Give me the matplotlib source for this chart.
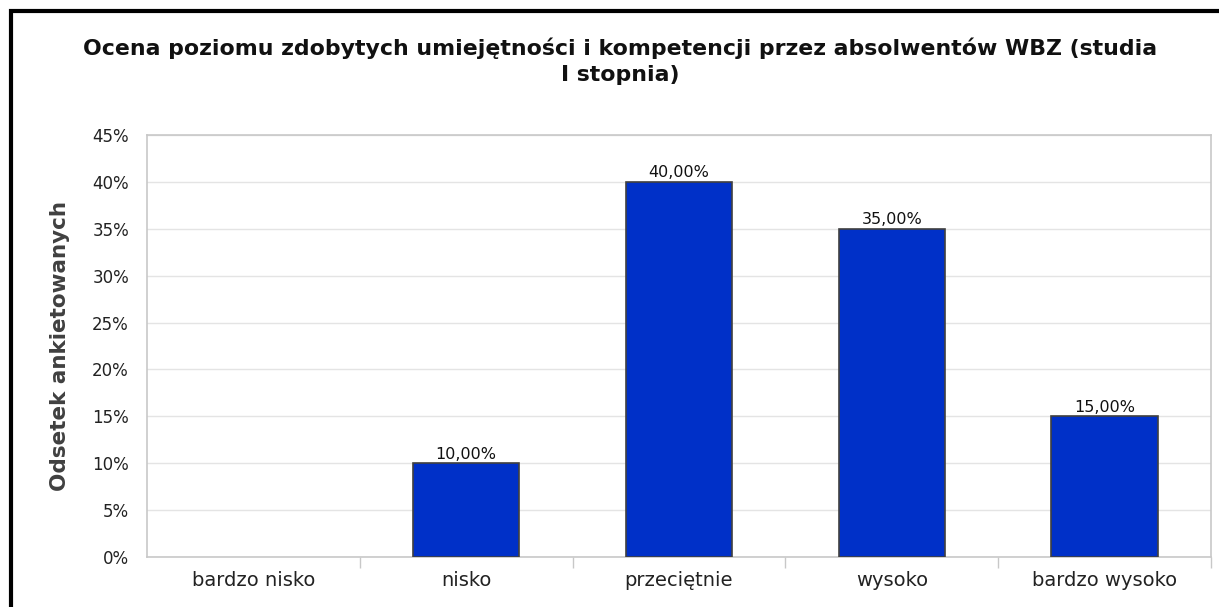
import matplotlib
matplotlib.use("Agg")
import matplotlib.pyplot as plt
from matplotlib.patches import Rectangle
from matplotlib.ticker import FixedLocator, NullFormatter

categories = ["bardzo nisko", "nisko", "przeciętnie", "wysoko", "bardzo wysoko"]
values = [0.0, 10.0, 40.0, 35.0, 15.0]
labels = ["", "10,00%", "40,00%", "35,00%", "15,00%"]
yticks = [0, 5, 10, 15, 20, 25, 30, 35, 40, 45]
ytick_labels = ["0%", "5%", "10%", "15%", "20%", "25%", "30%", "35%", "40%", "45%"]
title = "Ocena poziomu zdobytych umiejętności i kompetencji przez absolwentów WBZ (studia\nI stopnia)"
ylabel = "Odsetek ankietowanych"

plt.rcParams['font.family'] = ['DejaVu Sans']

W, H = 1219, 607
fig = plt.figure(figsize=(W / 100, H / 100), dpi=100)
ax = fig.add_axes([147 / W, (H - 557) / H, (1211 - 147) / W, (557 - 135) / H])

x = list(range(len(categories)))
edges = ["#404040" if v > 0 else "none" for v in values]
ax.bar(x, values, width=0.5, color="#0030C8", edgecolor=edges, linewidth=1.2, zorder=3)
for xi, v, lab in zip(x, values, labels):
    if lab:
        ax.text(xi, v + 0.15, lab, ha="center", va="bottom", fontsize=11.5, color="#111111", zorder=4)

ax.set_xlim(-0.5, len(categories) - 0.5)
ax.set_ylim(0, 45)
ax.set_yticks(yticks)
ax.set_yticklabels(ytick_labels, fontsize=12, color="#222222")
ax.yaxis.grid(True, color="#E4E4E4", linewidth=1, zorder=0)
ax.tick_params(axis="y", length=0, pad=13)

ax.set_xticks(x)
ax.set_xticklabels(categories, fontsize=14, color="#222222")
ax.tick_params(axis="x", which="major", length=0, pad=10)
ax.xaxis.set_minor_locator(FixedLocator([i + 0.5 for i in range(len(categories))]))
ax.xaxis.set_minor_formatter(NullFormatter())
ax.tick_params(axis="x", which="minor", length=8, color="#C8C8C8", width=1)

for s in ax.spines.values():
    s.set_color("#C8C8C8")
    s.set_linewidth(1.2)

ax.set_ylabel(ylabel, fontsize=15.5, fontweight="bold", color="#404040", labelpad=16)

fig.text(620 / W, 1 - 61 / H, title, ha="center", va="center", fontsize=15.8, fontweight="bold",
         color="#111111", linespacing=1.35)

border = Rectangle((10.5 / W, -0.1), 1.2, (H - 10.5) / H + 0.1, transform=fig.transFigure,
                   fill=False, edgecolor="black", linewidth=3)
fig.patches.append(border)

fig.savefig("out.png", dpi=100)
